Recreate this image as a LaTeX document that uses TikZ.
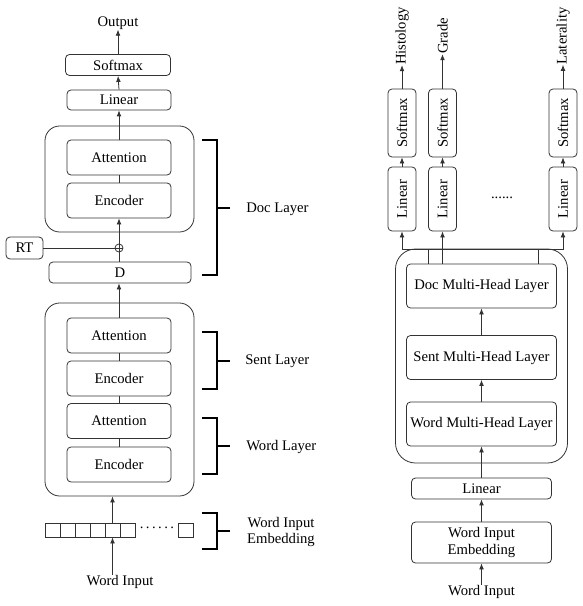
\documentclass[tikz,border=0pt]{standalone}
\usepackage{fontspec}
\setmainfont{Liberation Serif}
\usetikzlibrary{calc}
\usetikzlibrary{positioning}
\usetikzlibrary{arrows.meta}
\newcommand{\lineColor}{black!80}
\newcommand{\lw}{0.6pt}
\newcommand{\txt}{\fontsize{11}{12.5}\selectfont}
\tikzset{sz/.style 2 args = {minimum width=#1*0.75pt, minimum height=#2*0.75pt}}
\tikzset{block/.style = {draw=\lineColor, line width=\lw, rounded corners=3pt, inner sep=0pt, font=\txt, align=center}}
\tikzset{outerBlock/.style = {draw=\lineColor, line width=\lw, rounded corners=#1, inner sep=0pt}}
\tikzset{cell/.style = {draw=\lineColor, line width=\lw, inner sep=0pt, sz={15}{14}}}
\tikzset{link/.style = {-{Latex[length=4.5pt,width=3.6pt]}, line width=\lw, \lineColor}}
\tikzset{plainLink/.style = {line width=\lw, \lineColor}}
\tikzset{layerBracket/.style = {line width=0.9pt, black}}
\tikzset{plainText/.style = {inner sep=0pt, font=\txt, align=center}}

\begin{document}
\begin{tikzpicture}[x=0.75pt, y=-0.75pt]
    \useasboundingbox (0,0) rectangle (582,606);

    \begin{scope}
        \node[outerBlock=11pt, sz={149}{106}] (docL) at (119.5,179) {};
        \node[outerBlock=11pt, sz={149}{193}] (wordL) at (119.5,399.5) {};

        \node[plainText] (outL) at (118,23) {Output};
        \node[block, sz={105}{21}] (smL) at (118,65) {Softmax};
        \node[block, sz={104}{20}] (linL) at (119,100) {Linear};
        \node[block, sz={104}{35}] (attD) at (119,157.5) {Attention};
        \node[block, sz={104}{35}] (encD) at (119,200.5) {Encoder};
        \node[block, sz={37}{22}] (rt) at (24.5,248) {RT};
        \node[draw=\lineColor, line width=\lw, circle, inner sep=0pt, minimum size=6pt] (sum) at (119,248) {};
        \node[block, sz={142}{21}] (d) at (120,272.5) {D};

        \foreach \n/\y/\t in {attS/335.5/Attention, encS/378.5/Encoder,
                attW/421/Attention, encW/464.5/Encoder}
        {
            \node[block, sz={104}{35}] (\n) at (119,\y) {\t};
        }

        \foreach \i in {1,...,6}
        {
            \node[cell] (e\i) at (37.5+15*\i,530) {};
        }
        \node[cell] (eN) at (186,530) {};
        \node[plainText] (dotsL) at (157,528) {.\,.\,.\,.\,.\,.};
        \node[plainText] (winL) at (120,582) {Word Input};

        \draw[link] (smL.north) -- (outL.south);
        \draw[link] (linL.north) -- (smL.south);
        \draw[link] (attD.north) -- (linL.south);
        \draw[plainLink] (encD.north) -- (attD.south);
        \draw[link] (d.north -| sum) -- (encD.south -| sum);
        \draw[plainLink] (rt.east) -- (sum.east);
        \draw[link] (attS.north) -- (d.south -| attS);
        \draw[plainLink] (encS.north) -- (attS.south);
        \draw[plainLink] (attW.north) -- (encS.south);
        \draw[plainLink] (encW.north) -- (attW.south);
        \draw[link] (e5.north) -- (e5 |- wordL.south);
        \draw[link] (winL.north -| e5) -- (e5.south);

        \foreach \top/\bot/\mid in {140/275/208, 332/389/361, 418/474/446, 513/549/531}
        {
            \draw[layerBracket] (202,\top) -- (217,\top) -- (217,\bot) -- (202,\bot);
            \draw[layerBracket] (217,\mid) -- (230,\mid);
        }
        \node[plainText, anchor=west] (docLbl) at (246,209) {Doc Layer};
        \node[plainText, anchor=west] (sentLbl) at (245,361) {Sent Layer};
        \node[plainText, anchor=west] (wordLbl) at (246,447) {Word Layer};
        \node[plainText] (embLbl) at (281,532) {Word Input\\Embedding};
    \end{scope}

    \begin{scope}
        \node[outerBlock=15pt, sz={172}{214}] (mhR) at (481.5,356) {};

        \foreach \n/\y/\t in {docR/286/Doc, sentR/357.5/Sent, wordR/424/Word}
        {
            \node[block, sz={150}{44}] (\n) at (481.5,\y) {\t\ Multi-Head Layer};
        }
        \node[block, sz={140}{21}] (linR) at (481.5,488.5) {Linear};
        \node[block, sz={140}{41}] (embR) at (481.5,542.5) {Word Input\\Embedding};
        \node[plainText] (winR) at (481.5,592) {Word Input};

        \foreach \k/\x/\t in {1/402/Histology, 2/442.5/Grade, 3/563/Laterality}
        {
            \node[block, rotate=90, sz={64}{28}] (lin\k) at (\x,199) {Linear};
            \node[block, rotate=90, sz={68}{28}] (sm\k) at (\x,123) {Softmax};
            \node[plainText, rotate=90] (lab\k) at (\x,36) {\t};
            \draw[link] (lin\k.east) -- (sm\k.west);
            \draw[link] (sm\k.east) -- (lab\k.west);
        }
        \node[plainText] (dotsR) at (502,198) {......};

        \coordinate (b1) at (428,249);
        \coordinate (b3) at (538,249);
        \draw[link] (b1 |- docR.north) -- (b1) -| (lin1.west);
        \draw[link] (docR.north -| lin2) -- (lin2.west);
        \draw[link] (b3 |- docR.north) -- (b3) -| (lin3.west);
        \draw[plainLink] (b1) -- (b3);

        \draw[link] (winR.north) -- (embR.south);
        \draw[link] (embR.north) -- (linR.south);
        \draw[link] (linR.north) -- (wordR.south);
        \draw[link] (wordR.north) -- (sentR.south);
        \draw[link] (sentR.north) -- (docR.south);
    \end{scope}
\end{tikzpicture}
\end{document}
